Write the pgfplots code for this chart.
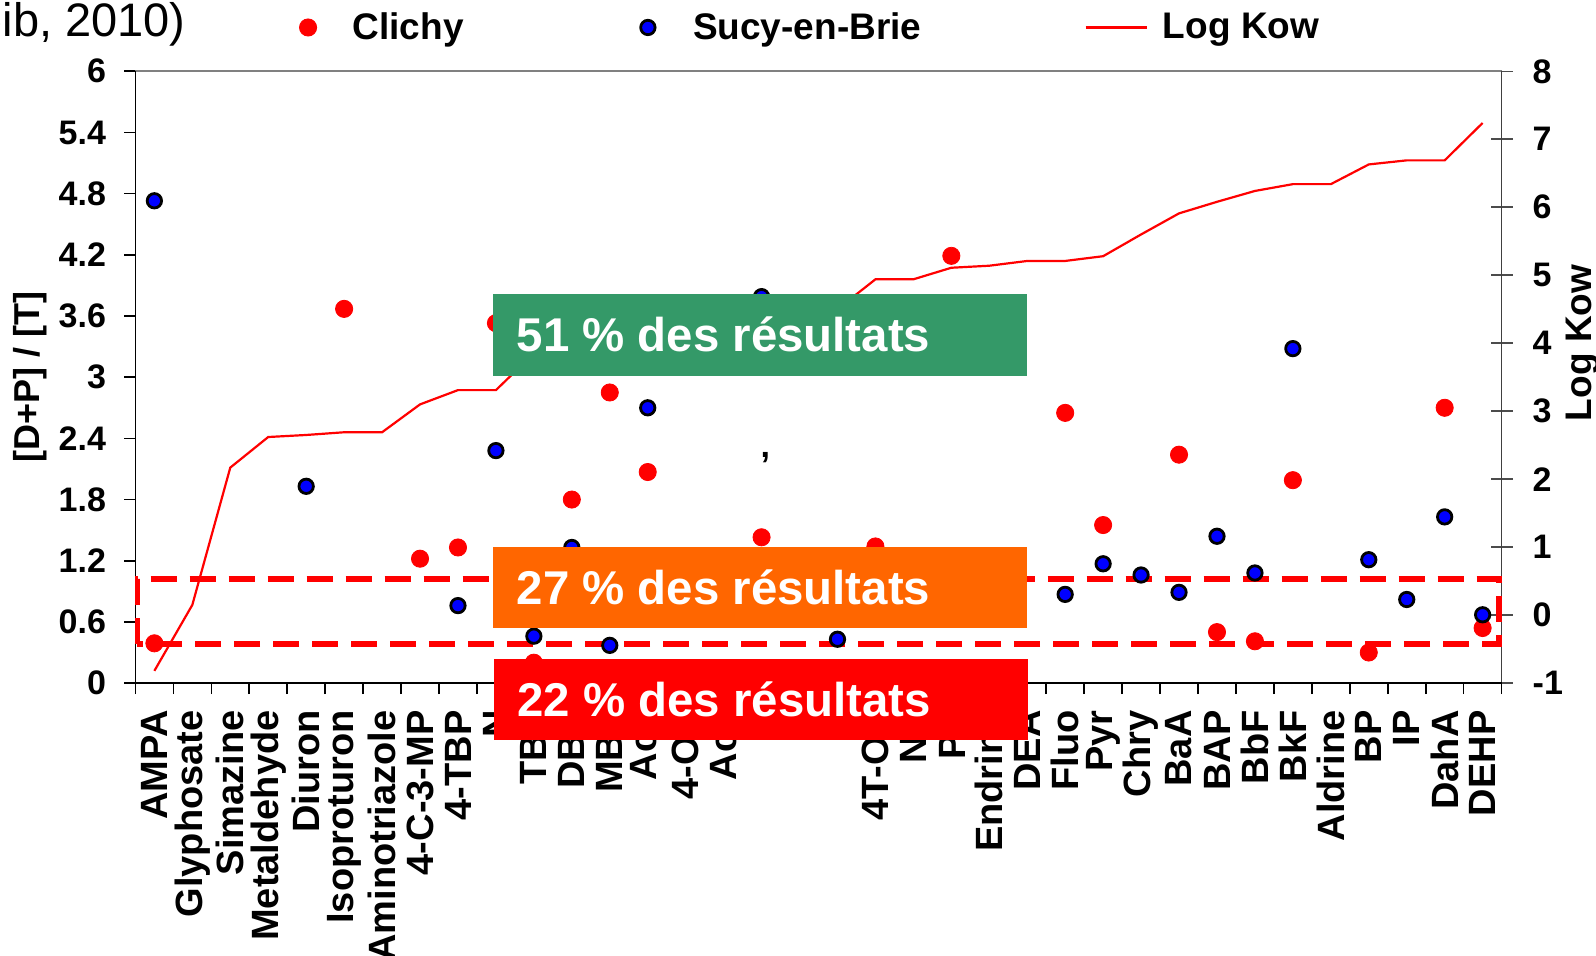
\documentclass[border=0pt]{standalone}
\usepackage{fontspec}
\setmainfont{Liberation Sans}
\usepackage{pgfplots}
\pgfplotsset{compat=1.18}
\usetikzlibrary{calc}
\definecolor{boxgreen}{RGB}{52,153,104}
\definecolor{boxorange}{RGB}{255,102,0}
\definecolor{boxred}{RGB}{255,0,0}
\definecolor{axisgray}{RGB}{128,128,128}
\pgfplotsset{kowlegend/.style={legend image code/.code={\draw[#1] (0pt,0pt) -- (30.5pt,0pt);}}}

\pgfplotstableread{
x y
1 -0.82
2 0.15
3 2.17
4 2.62
5 2.65
6 2.69
7 2.69
8 3.10
9 3.31
10 3.31
11 3.85
12 3.92
13 3.98
14 4.05
15 4.12
16 4.20
17 4.30
18 4.40
19 4.50
20 4.94
21 4.94
22 5.11
23 5.14
24 5.21
25 5.21
26 5.28
27 5.60
28 5.91
29 6.08
30 6.24
31 6.34
32 6.34
33 6.63
34 6.69
35 6.69
36 7.24
}\kowdata

\pgfplotstableread{
x y
1 0.39
6 3.67
8 1.22
9 1.33
10 3.53
11 0.20
12 1.80
13 2.85
14 2.07
17 1.43
20 1.34
22 4.19
25 2.65
26 1.55
28 2.24
29 0.50
30 0.41
31 1.99
33 0.30
35 2.70
36 0.54
}\clichy

\pgfplotstableread{
x y
1 4.73
5 1.93
9 0.76
10 2.28
11 0.46
12 1.33
13 0.37
14 2.70
17 3.79
19 0.43
25 0.87
26 1.17
27 1.06
28 0.89
29 1.44
30 1.08
31 3.28
33 1.21
34 0.82
35 1.63
36 0.67
}\sucy

\begin{document}
\begin{tikzpicture}
\path[use as bounding box] (0,0) rectangle (798pt,478pt);
\node[anchor=base east, inner sep=0pt, font=\fontsize{23.5}{23.5}\selectfont] at (93pt,459.5pt) {(Zgheib, 2010)};

% right axis : Log Kow
\begin{axis}[
  at={(67.7pt,136.45pt)}, anchor=south west,
  scale only axis, width=683.1pt, height=305.9pt,
  xmin=0.5, xmax=36.5, ymin=-1, ymax=8,
  axis y line*=right, axis x line*=top,
  axis line style={-},
  x axis line style={draw=axisgray, line width=1pt},
  y axis line style={draw=black!75, line width=0.8pt},
  xtick=\empty,
  ytick={-1,0,1,2,3,4,5,6,7,8},
  tick align=center, major tick length=11pt,
  ytick style={draw=black!70, line width=0.8pt},
  yticklabel style={font=\fontsize{17}{17}\selectfont\bfseries, anchor=west, xshift=6.5pt},
  /pgf/number format/assume math mode=true,
  ylabel={Log Kow},
  ylabel style={at={(axis description cs:1.0596,0.556)}, anchor=center, font=\fontsize{18.5}{18.5}\selectfont\bfseries},
]
\addplot[red, line width=1.1pt, mark=none] table {\kowdata};
\end{axis}

% left axis : ratios
\begin{axis}[
  at={(67.7pt,136.45pt)}, anchor=south west,
  scale only axis, width=683.1pt, height=305.9pt,
  xmin=0.5, xmax=36.5, ymin=0, ymax=6,
  axis y line*=left, axis x line*=bottom,
  axis line style={-, line width=0.8pt, black},
  clip=false,
  tick align=outside, major tick length=5.5pt,
  tick style={draw=black, line width=0.8pt},
  xtick={0.5,1.5,...,36.5},
  x tick label as interval,
  xticklabels={AMPA,Glyphosate,Simazine,Metaldehyde,Diuron,Isoproturon,Aminotriazole,4-C-3-MP,4-TBP,N,TBT,DBT,MBT,Acy,4-OP,Ace,{},{},{},4T-OP,NP,Ph,Endrine,DEA,Fluo,Pyr,Chry,BaA,BAP,BbF,BkF,Aldrine,BP,IP,DahA,DEHP},
  xticklabel style={rotate=90, anchor=east, inner sep=0pt, xshift=-8pt, font=\fontsize{19}{19}\selectfont\bfseries},
  ytick={0,0.6,1.2,1.8,2.4,3,3.6,4.2,4.8,5.4,6},
  yticklabel style={font=\fontsize{17}{17}\selectfont\bfseries, anchor=east, inner sep=0pt, xshift=-9pt},
  /pgf/number format/assume math mode=true,
  ylabel={[D+P] / [T]},
  ylabel style={at={(axis description cs:-0.0771,0.5)}, anchor=center, font=\fontsize{18}{18}\selectfont\bfseries},
  legend columns=3,
  legend style={at={(0.1198,1.0716)}, anchor=west, draw=none, fill=none, inner sep=0pt,
    font=\fontsize{18.5}{18.5}\selectfont\bfseries,
    /tikz/column 1/.style={column sep=16pt},
    /tikz/column 2/.style={column sep=86.5pt},
    /tikz/column 3/.style={column sep=17pt},
    /tikz/column 4/.style={column sep=79.5pt},
    /tikz/column 5/.style={column sep=5.5pt}},
]
\draw[red, line width=2.7pt, dash pattern=on 13pt off 6.5pt] (axis cs:0.55,0.385) rectangle (axis cs:36.43,1.02);
\addplot[only marks, mark=*, mark size=4.3pt, color=red, mark options={draw=none, fill=red}] table {\clichy};
\addlegendentry{Clichy}
\addplot[only marks, mark=*, mark size=3.6pt, color=blue, mark options={draw=black, fill=blue, line width=1.4pt}] table {\sucy};
\addlegendentry{Sucy-en-Brie}
\addlegendimage{red, line width=1.3pt, kowlegend}
\addlegendentry{Log Kow}
\node[font=\fontsize{17}{17}\selectfont\bfseries, inner sep=0pt] at (axis cs:17.1,2.21) {,};
\coordinate (gA) at (axis cs:9.93,3.012);
\coordinate (gB) at (axis cs:24.0,3.816);
\coordinate (gM) at (axis cs:9.93,3.414);
\coordinate (oA) at (axis cs:9.93,0.537);
\coordinate (oB) at (axis cs:24.0,1.337);
\coordinate (oM) at (axis cs:9.93,0.937);
\coordinate (rA) at (axis cs:9.95,-0.56);
\coordinate (rB) at (axis cs:24.02,0.24);
\coordinate (rM) at (axis cs:9.95,-0.16);
\end{axis}

\fill[boxgreen] (gA) rectangle (gB);
\fill[boxorange] (oA) rectangle (oB);
\fill[boxred] (rA) rectangle (rB);
\begin{scope}[every node/.style={anchor=base west, inner sep=0pt, text=white, font=\fontsize{23.7}{23.7}\selectfont\bfseries}]
\node at ([xshift=11.5pt, yshift=-8.5pt]gM) {51 \% des résultats};
\node at ([xshift=11.5pt, yshift=-8.5pt]oM) {27 \% des résultats};
\node at ([xshift=11.5pt, yshift=-8.5pt]rM) {22 \% des résultats};
\end{scope}
\end{tikzpicture}
\end{document}
